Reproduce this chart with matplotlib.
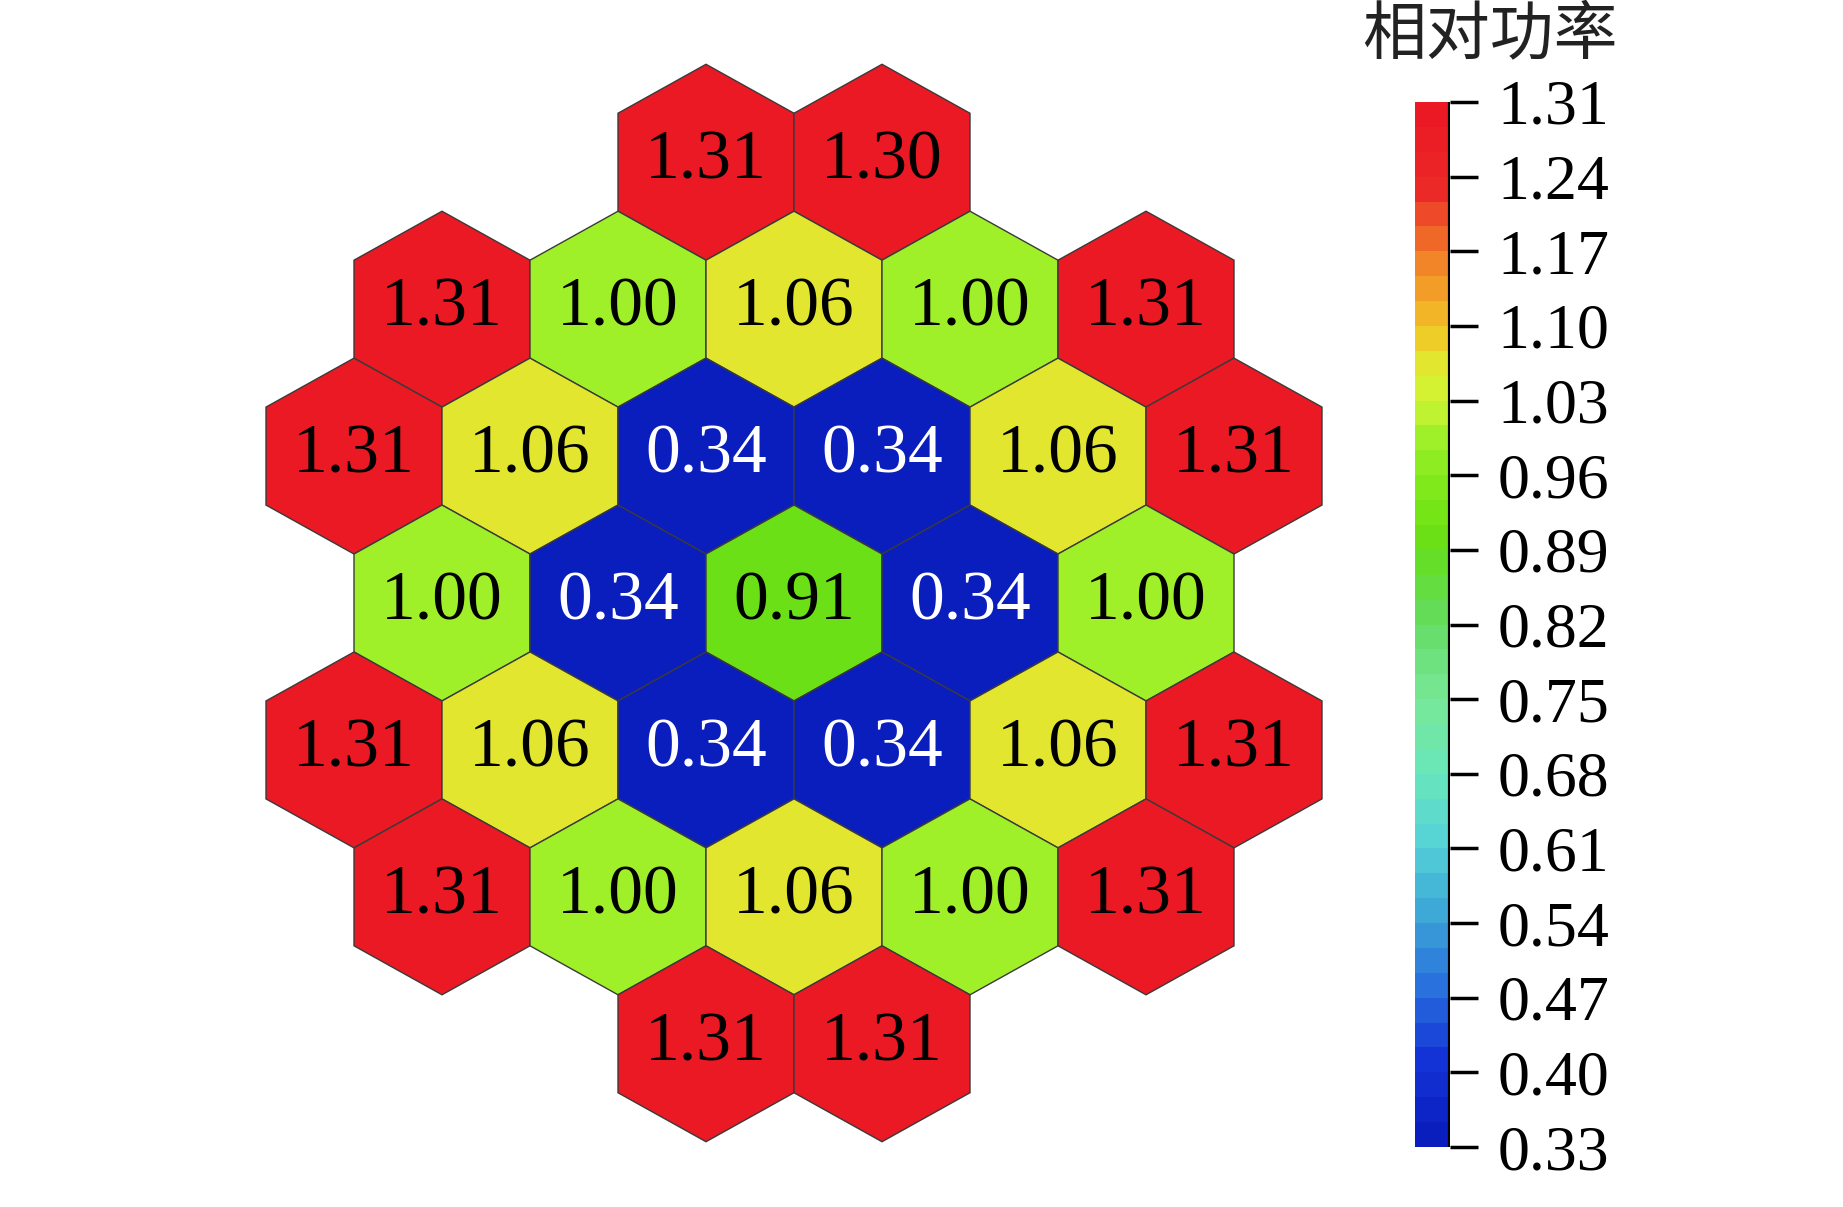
import numpy as np
import matplotlib
matplotlib.use("Agg")
import matplotlib.pyplot as plt
from matplotlib.patches import RegularPolygon
from matplotlib.colors import LinearSegmentedColormap, Normalize
from matplotlib.cm import ScalarMappable

# relative power of each assembly, row by row from the top
row_values = [
    [1.31, 1.30],
    [1.31, 1.00, 1.06, 1.00, 1.31],
    [1.31, 1.06, 0.34, 0.34, 1.06, 1.31],
    [1.00, 0.34, 0.91, 0.34, 1.00],
    [1.31, 1.06, 0.34, 0.34, 1.06, 1.31],
    [1.31, 1.00, 1.06, 1.00, 1.31],
    [1.31, 1.31],
]
cbar_ticks = [0.33, 0.40, 0.47, 0.54, 0.61, 0.68, 0.75, 0.82,
              0.89, 0.96, 1.03, 1.10, 1.17, 1.24, 1.31]
cbar_title = "相对功率"
vmin, vmax = 0.33, 1.31

# colour anchors
anchor_vals = [0.33, 0.40, 0.47, 0.54, 0.61, 0.68, 0.75, 0.82, 0.89,
               0.91, 0.96, 1.00, 1.03, 1.06, 1.10, 1.17, 1.24, 1.31]
anchor_rgb = [(10, 30, 190), (20, 50, 215), (40, 110, 220), (60, 165, 215),
              (85, 210, 215), (105, 230, 185), (120, 232, 150), (100, 220, 100),
              (100, 222, 30), (110, 225, 20), (130, 235, 30), (160, 240, 40),
              (200, 242, 50), (222, 242, 50), (242, 200, 40), (242, 130, 40),
              (235, 40, 40), (235, 25, 35)]

pos = [(v - vmin) / (vmax - vmin) for v in anchor_vals]
cols = [tuple(c / 255 for c in rgb) for rgb in anchor_rgb]
cmap = LinearSegmentedColormap.from_list("pw", list(zip(pos, cols)), N=42)
norm = Normalize(vmin=vmin, vmax=vmax)

plt.rcParams['font.family'] = ['Liberation Serif', 'DejaVu Serif']

fig = plt.figure(figsize=(18.43, 12.07), dpi=100)
ax = fig.add_axes([178 / 1843, 1 - 1171 / 1207, 1232 / 1843, 1136 / 1207])

R = 1 / np.sqrt(3)
dy = 1.5 * R
for r, vals in enumerate(row_values):
    n = len(vals)
    for c, v in enumerate(vals):
        x = c - (n - 1) / 2
        y = -r * dy
        hexp = RegularPolygon((x, y), numVertices=6, radius=R, orientation=0,
                              facecolor=cmap(norm(v)), edgecolor='#3a3a3a', lw=1.0)
        ax.add_patch(hexp)
        tc = 'white' if v < 0.6 else 'black'
        ax.text(x, y, f"{v:.2f}", ha='center', va='center', fontsize=50, color=tc)

ax.set_xlim(-3.5, 3.5)
ax.set_ylim(-6 * dy - 0.75, 0.75)
ax.set_aspect('auto')
ax.axis('off')

cax = fig.add_axes([1415 / 1843, 1 - 1147 / 1207, 35 / 1843, 1045 / 1207])
cb = fig.colorbar(ScalarMappable(norm=norm, cmap=cmap), cax=cax, ticks=cbar_ticks)
cb.outline.set_visible(False)
cax.axvline(1.0, color='black', lw=3)
cb.ax.set_yticklabels([f"{t:.2f}" for t in cbar_ticks])
cax.tick_params(direction='out', length=20, width=2.5, pad=14, labelsize=46)

fig.text(1490 / 1843, 1 - 35 / 1207, cbar_title, ha='center', va='center',
         fontsize=46, family=['Noto Sans CJK SC', 'DejaVu Sans'], color='#222222')

fig.savefig("out.png", dpi=100)
